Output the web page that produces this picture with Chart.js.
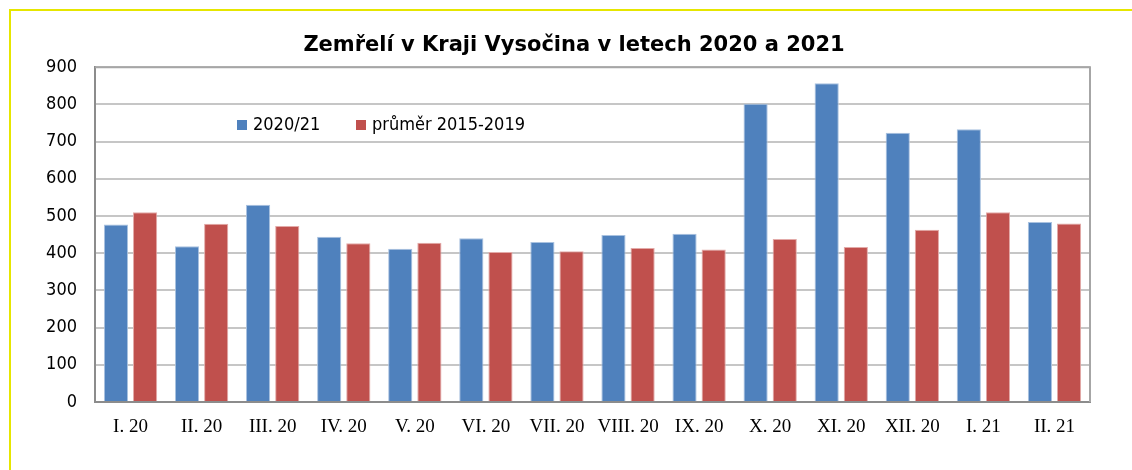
<!DOCTYPE html>
<html>
<head>
<meta charset="utf-8">
<script src="https://cdn.jsdelivr.net/npm/chart.js@4"></script>
<style>
  html, body { margin: 0; padding: 0; background: #fff; }
  #wrap { position: relative; width: 1132px; height: 470px; overflow: hidden; }
  #frame { position: absolute; left: 9px; top: 9px; width: 1200px; height: 600px;
           border-left: 2px solid #e6e600; border-top: 2px solid #e6e600; }
  #chartDeaths { position: absolute; left: 0; top: 0; }
</style>
</head>
<body>
<div id="wrap">
  <div id="frame"></div>
  <canvas id="chartDeaths" width="1132" height="470"></canvas>
</div>
<script>
// data
const months = ["I. 20", "II. 20", "III. 20", "IV. 20", "V. 20", "VI. 20", "VII. 20",
  "VIII. 20", "IX. 20", "X. 20", "XI. 20", "XII. 20", "I. 21", "II. 21"];
const deaths2020 = [477, 419, 530, 444, 412, 440, 430, 449, 452, 802, 857, 724, 733, 484];
const avg2015 = [510, 479, 473, 427, 428, 403, 405, 414, 410, 438, 417, 463, 510, 480];
const seriesNames = ["2020/21", "průměr 2015-2019"];

const tickFont = "'DejaVu Sans Condensed', 'DejaVu Sans', sans-serif";

// legend sits inside the plot, drawn by hand
const innerLegend = {
  id: "innerLegend",
  afterDraw(chart) {
    const ctx = chart.ctx;
    const pos = [237, 356];
    ctx.save();
    ctx.font = "18px " + tickFont;
    ctx.textBaseline = "middle";
    chart.data.datasets.forEach((ds, i) => {
      ctx.fillStyle = ds.backgroundColor;
      ctx.fillRect(pos[i], 120, 10, 10);
      ctx.fillStyle = "#000";
      ctx.fillText(ds.label, pos[i] + 16, 125);
    });
    ctx.restore();
  }
};

// y labels stick out past the narrow axis box, so draw them here
const yLabels = {
  id: "yLabels",
  afterDraw(chart) {
    const ctx = chart.ctx;
    const y = chart.scales.y;
    ctx.save();
    ctx.font = "18px " + tickFont;
    ctx.fillStyle = "#000";
    ctx.textAlign = "right";
    ctx.textBaseline = "middle";
    y.ticks.forEach((t) => {
      ctx.fillText(String(t.value), chart.chartArea.left - 18, y.getPixelForValue(t.value));
    });
    ctx.restore();
  }
};

// right + top border of the plot area
const plotBorder = {
  id: "plotBorder",
  beforeDatasetsDraw(chart) {
    const a = chart.chartArea;
    const ctx = chart.ctx;
    ctx.save();
    ctx.strokeStyle = "#a6a6a6";
    ctx.lineWidth = 2;
    ctx.beginPath();
    ctx.moveTo(a.left, a.top);
    ctx.lineTo(a.right, a.top);
    ctx.lineTo(a.right, a.bottom);
    ctx.stroke();
    ctx.restore();
  }
};

new Chart(document.getElementById("chartDeaths"), {
  type: "bar",
  data: {
    labels: months,
    datasets: [
      {
        label: seriesNames[0],
        data: deaths2020,
        backgroundColor: "#4f81bd",
        borderColor: "#a9c2e0",
        borderWidth: 1,
      },
      {
        label: seriesNames[1],
        data: avg2015,
        backgroundColor: "#c0504d",
        borderColor: "#e3aaa8",
        borderWidth: 1,
      },
    ],
  },
  options: {
    responsive: false,
    animation: false,
    events: [],
    layout: { padding: { left: 58, right: 42, top: 0, bottom: 18 } },
    datasets: { bar: { categoryPercentage: 0.82, barPercentage: 0.83 } },
    plugins: {
      legend: { display: false },
      tooltip: { enabled: false },
      title: {
        display: true,
        text: "Zemřelí v Kraji Vysočina v letech 2020 a 2021",
        color: "#000",
        font: { family: "'DejaVu Sans', sans-serif", size: 21, weight: "bold" },
        padding: { top: 33, bottom: 9 },
      },
    },
    scales: {
      x: {
        grid: { display: false, drawTicks: false },
        border: { color: "#8c8c8c", width: 2 },
        ticks: {
          color: "#000",
          padding: 14,
          maxRotation: 0,
          autoSkip: false,
          font: { family: "'Liberation Serif', 'Times New Roman', serif", size: 19 },
        },
        afterFit(scale) { scale.height = 50; },
      },
      y: {
        min: 0,
        max: 900,
        ticks: { stepSize: 100, display: false },
        grid: { color: "#c6c6c6", lineWidth: 2, drawTicks: false },
        border: { color: "#8c8c8c", width: 2 },
        afterFit(scale) { scale.width = 37; },
      },
    },
  },
  plugins: [plotBorder, innerLegend, yLabels],
});
</script>
</body>
</html>
